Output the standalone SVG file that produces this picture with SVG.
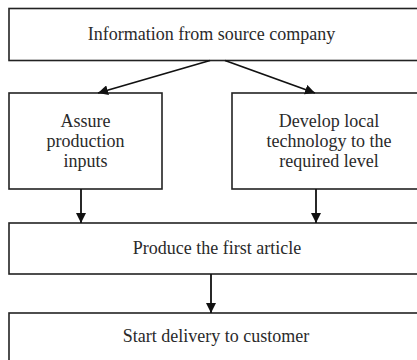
<svg xmlns="http://www.w3.org/2000/svg" width="417" height="360" viewBox="0 0 417 360">
  <style>
    .box { fill: #ffffff; stroke: #222222; stroke-width: 1.6; }
    .lbl { font-family: "Liberation Serif", "DejaVu Serif", serif; font-size: 18px; fill: #2a2a2a; text-anchor: middle; }
    .edge { stroke: #111111; stroke-width: 1.8; fill: none; marker-end: url(#arrow); }
  </style>
  <defs>
    <marker id="arrow" viewBox="0 0 10 10" refX="10" refY="5" markerWidth="10" markerHeight="10" markerUnits="userSpaceOnUse" orient="auto">
      <path d="M0,0 L10,5 L0,10 z" fill="#111111"/>
    </marker>
  </defs>
  <rect width="417" height="360" fill="#ffffff"/>

  <g id="source">
    <rect class="box" x="9" y="8.5" width="420" height="52"/>
    <text class="lbl" x="211.5" y="40">Information from source company</text>
  </g>

  <g id="inputs">
    <rect class="box" x="9" y="93" width="153" height="96"/>
    <text class="lbl" x="85.5" y="127">Assure</text>
    <text class="lbl" x="85.5" y="147">production</text>
    <text class="lbl" x="85.5" y="167">inputs</text>
  </g>

  <g id="technology">
    <rect class="box" x="232" y="93" width="200" height="96"/>
    <text class="lbl" x="329" y="127">Develop local</text>
    <text class="lbl" x="329" y="147">technology to the</text>
    <text class="lbl" x="329" y="167">required level</text>
  </g>

  <g id="first-article">
    <rect class="box" x="9" y="223" width="420" height="51"/>
    <text class="lbl" x="217" y="254">Produce the first article</text>
  </g>

  <g id="delivery">
    <rect class="box" x="9" y="313" width="420" height="60"/>
    <text class="lbl" x="216" y="342">Start delivery to customer</text>
  </g>

  <g id="connectors">
    <line class="edge" x1="210" y1="60.5" x2="98" y2="93"/>
    <line class="edge" x1="225" y1="60.5" x2="315" y2="93"/>
    <line class="edge" x1="81" y1="189" x2="81" y2="223"/>
    <line class="edge" x1="316" y1="189" x2="316" y2="223"/>
    <line class="edge" x1="211" y1="274" x2="211" y2="313"/>
  </g>
</svg>
